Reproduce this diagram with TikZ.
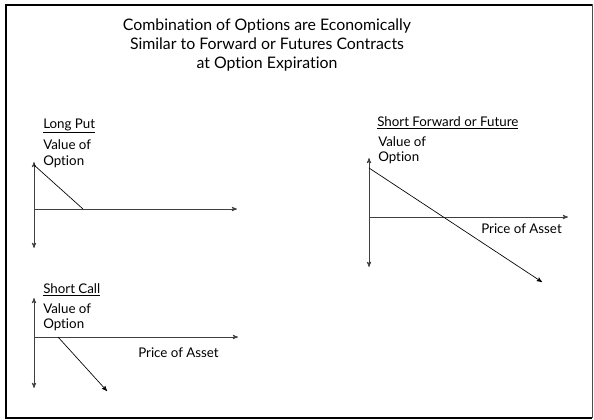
\documentclass[tikz,border=0pt]{standalone}
\usepackage{fontspec}
\setmainfont{Lato}[Ligatures=NoCommon]
\usetikzlibrary{arrows,calc}

\begin{document}
\begin{tikzpicture}[x=0.75pt,y=-0.75pt,>=stealth',
  axis/.style={line width=0.5pt,draw=black!75},
  payoff/.style={line width=0.5pt,draw=black},
  lbl/.style={font=\fontsize{10}{11}\selectfont,inner sep=0pt,anchor=west},
  title/.style={font=\fontsize{11.9}{14.25}\selectfont,align=center}]

\useasboundingbox (0,0) rectangle (594,420);
\draw[line width=0.75pt,draw=black!70] (6,5) rectangle (592,418);
\draw[line width=2pt] (592,5) -- (6,5) -- (6,418) -- (592,418);

\node[title](T) at (267,45) {Combination of Options are Economically\\Similar to Forward or Futures Contracts\\at Option Expiration};

% long put
\node[lbl](LP) at (43,126) {\underline{Long Put}};
\node[lbl](LPv) at (43,145) {Value of};
\node[lbl](LPo) at (43,162) {Option};
\coordinate (O1) at (34,209);
\coordinate (LPtop) at (34,162);
\coordinate (LPbot) at (34,248);
\coordinate (LPx) at (237,209);
\coordinate (LPa) at (34,165);
\coordinate (LPb) at (83,209);

% short call
\node[lbl](SC) at (43,290) {\underline{Short Call}};
\node[lbl](SCv) at (43,309) {Value of};
\node[lbl](SCo) at (43,325) {Option};
\node[lbl](SCp) at (138,353) {Price of Asset};
\coordinate (O2) at (34,337);
\coordinate (SCtop) at (34,298);
\coordinate (SCbot) at (34,388);
\coordinate (SCx) at (238,337);
\coordinate (SCk) at (58,337);
\coordinate (SCb) at (107,391);

% short forward
\node[lbl](SF) at (377,123) {\underline{Short Forward or Future}};
\node[lbl](SFv) at (378,142) {Value of};
\node[lbl](SFo) at (378,158) {Option};
\node[lbl](SFp) at (481,229) {Price of Asset};
\coordinate (O3) at (369,217);
\coordinate (SFtop) at (369,158);
\coordinate (SFbot) at (369,267);
\coordinate (SFx) at (568,217);
\coordinate (SFa) at (369,168);
\coordinate (SFb) at (542,282);

\path
(LPtop) edge[axis,<->] (LPbot)
(O1) edge[axis,->] (LPx)
(LPa) edge[payoff] (LPb)
(SCtop) edge[axis,<->] (SCbot)
(O2) edge[axis,->] (SCx)
(SCk) edge[payoff,->] (SCb)
(SFtop) edge[axis,<->] (SFbot)
(O3) edge[axis,->] (SFx)
(SFa) edge[payoff,->] (SFb);
\end{tikzpicture}
\end{document}
